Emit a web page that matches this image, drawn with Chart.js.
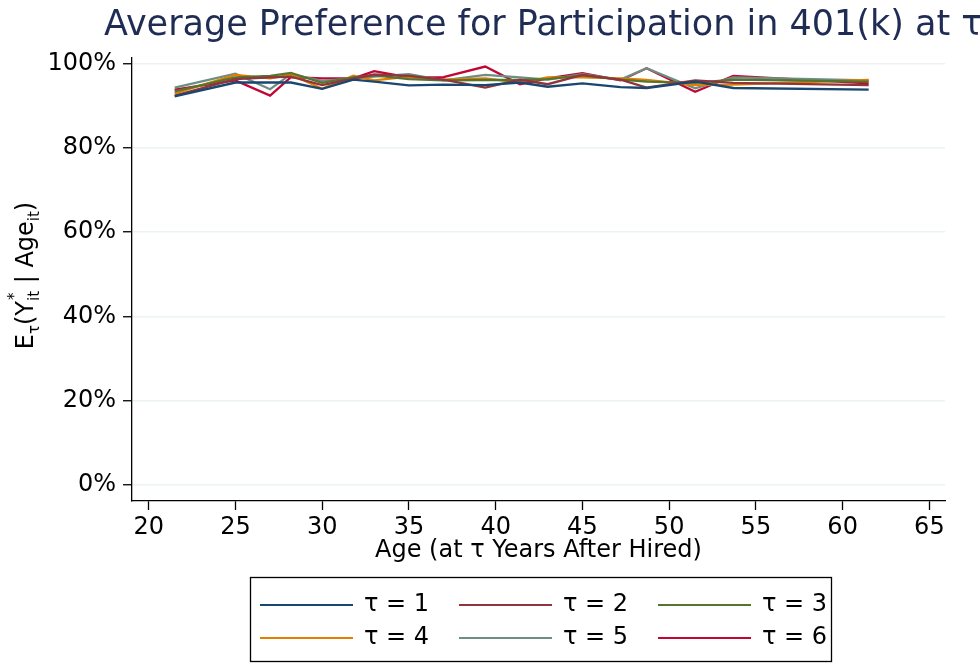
<!DOCTYPE html>
<html>
<head>
<meta charset="utf-8">
<script src="https://cdn.jsdelivr.net/npm/chart.js@4"></script>
<style>
html,body{margin:0;padding:0;background:#fff;}
canvas{display:block;}
</style>
</head>
<body>
<canvas id="c" width="980" height="664"></canvas>
<script>
// ---- data ----
const ages = [21.5, 25, 27, 28.2, 30, 31.8, 33, 35, 37, 39.4, 41.4, 43, 45, 47.2, 48.7, 51.5, 53.7, 61.5];
const tau1 = [92.3, 95.6, 95.6, 95.6, 94.1, 96.3, 95.8, 94.9, 95.1, 95.0, 95.6, 94.6, 95.4, 94.5, 94.3, 95.8, 94.3, 93.9];
const tau2 = [92.5, 96.4, 96.8, 97.0, 95.0, 96.5, 97.5, 97.2, 96.3, 94.4, 96.3, 95.2, 97.4, 96.3, 94.4, 96.1, 95.5, 95.0];
const tau3 = [93.5, 96.8, 97.2, 97.9, 95.5, 96.8, 97.3, 96.4, 96.1, 96.2, 96.2, 96.4, 97.3, 96.3, 95.8, 95.5, 96.3, 95.8];
const tau4 = [93.0, 97.4, 96.6, 97.5, 94.1, 97.2, 96.1, 97.0, 96.3, 96.6, 95.6, 96.8, 96.8, 96.6, 96.2, 95.0, 95.1, 96.2];
const tau5 = [94.4, 97.7, 94.0, 97.6, 96.0, 96.6, 97.0, 97.6, 96.1, 97.4, 96.8, 96.3, 97.6, 96.3, 99.0, 94.2, 96.8, 96.1];
const tau6 = [93.9, 96.1, 92.5, 96.9, 96.6, 96.6, 98.3, 96.8, 96.9, 99.4, 95.2, 96.6, 97.8, 96.1, 99.0, 93.4, 97.2, 95.4];
const seriesLabels = ['τ = 1', 'τ = 2', 'τ = 3', 'τ = 4', 'τ = 5', 'τ = 6'];
const xTicks = [20, 25, 30, 35, 40, 45, 50, 55, 60, 65];
const yTicks = [0, 20, 40, 60, 80, 100];
const titleText = 'Average Preference for Participation in 401(k) at τ';
const xTitle = 'Age (at τ Years After Hired)';

// ---- styles ----
const seriesColors = ['#1a476f', '#90353b', '#55752f', '#e37e00', '#6e8e84', '#c10534'];
const FONT = 'DejaVu Sans';

const seriesValues = [tau1, tau2, tau3, tau4, tau5, tau6];

const overlay = {
  id: 'overlay',
  afterDraw(chart) {
    const ctx = chart.ctx;
    const ca = chart.chartArea;
    ctx.save();
    // title
    ctx.fillStyle = '#1f2d55';
    ctx.font = '35px "' + FONT + '"';
    ctx.textAlign = 'left';
    ctx.textBaseline = 'alphabetic';
    ctx.fillText(titleText, 104, 35);

    // x axis title
    ctx.fillStyle = '#000';
    ctx.font = '24px "' + FONT + '"';
    ctx.textAlign = 'center';
    ctx.textBaseline = 'middle';
    ctx.fillText(xTitle, (ca.left + ca.right) / 2, 551);

    // y axis title (rotated, with sub/superscripts)
    const main = 24, small = 15;
    const pieces = [
      {t: 'E', s: main, dy: 0},
      {t: 'τ', s: small, dy: 6},
      {t: '(Y', s: main, dy: 0},
      {t: 'it', s: small, dy: 6, stackSup: '*'},
      {t: ' | Age', s: main, dy: 0},
      {t: 'it', s: small, dy: 6},
      {t: ')', s: main, dy: 0}
    ];
    let total = 0;
    pieces.forEach(p => { ctx.font = p.s + 'px "' + FONT + '"'; p.w = ctx.measureText(p.t).width; total += p.w; });
    ctx.translate(24, (ca.top + ca.bottom) / 2 - 4);
    ctx.rotate(-Math.PI / 2);
    ctx.textAlign = 'left';
    ctx.textBaseline = 'alphabetic';
    let px = -total / 2;
    const base = 9;
    pieces.forEach(p => {
      ctx.font = p.s + 'px "' + FONT + '"';
      ctx.fillText(p.t, px, base + p.dy);
      if (p.stackSup) {
        ctx.fillText(p.stackSup, px + 1, base - 14);
      }
      px += p.w;
    });
    ctx.restore();

    // legend
    ctx.save();
    ctx.strokeStyle = '#000';
    ctx.lineWidth = 1.3;
    ctx.strokeRect(250.5, 577.5, 581, 84);
    const colLine = [260, 459, 658];
    const rowY = [605, 638];
    ctx.font = '24px "' + FONT + '"';
    ctx.textAlign = 'left';
    ctx.textBaseline = 'middle';
    chart.data.datasets.forEach((ds, i) => {
      const c = i % 3, r = Math.floor(i / 3);
      const x0 = colLine[c], y0 = rowY[r];
      ctx.strokeStyle = ds.borderColor;
      ctx.lineWidth = 2;
      ctx.beginPath();
      ctx.moveTo(x0, y0);
      ctx.lineTo(x0 + 93, y0);
      ctx.stroke();
      ctx.fillStyle = '#000';
      ctx.fillText(ds.label, x0 + 104, y0);
    });
    ctx.restore();
  }
};

new Chart(document.getElementById('c'), {
  type: 'line',
  data: {
    datasets: seriesValues.map((vals, i) => ({
      label: seriesLabels[i],
      data: ages.map((a, j) => ({x: a, y: vals[j]})),
      borderColor: seriesColors[i],
      backgroundColor: seriesColors[i],
      borderWidth: 2.3,
      pointRadius: 0,
      tension: 0,
      fill: false
    }))
  },
  options: {
    responsive: false,
    animation: false,
    devicePixelRatio: 1,
    layout: {padding: {top: 58, right: 35, left: 0, bottom: 0}},
    plugins: {legend: {display: false}, title: {display: false}, tooltip: {enabled: false}},
    scales: {
      x: {
        type: 'linear',
        min: 19.04,
        max: 65.9,
        afterBuildTicks: s => { s.ticks = xTicks.map(v => ({value: v})); },
        afterFit: s => { s.height = 163; },
        grid: {drawOnChartArea: false, drawTicks: true, tickLength: 9, tickColor: '#000', tickWidth: 1.3},
        border: {color: '#000', width: 1.3},
        ticks: {font: {family: FONT, size: 24}, color: '#000', padding: 3, maxRotation: 0, autoSkip: false}
      },
      y: {
        type: 'linear',
        min: -3.9,
        max: 101.43,
        afterBuildTicks: s => { s.ticks = yTicks.map(v => ({value: v})); },
        afterFit: s => { s.width = 132; },
        grid: {color: '#eaf2f3', lineWidth: 1.5, drawTicks: true, tickLength: 9, tickColor: '#000', tickWidth: 1.3},
        border: {color: '#000', width: 1.3},
        ticks: {font: {family: FONT, size: 24}, color: '#000', padding: 7, callback: v => v + '%'}
      }
    }
  },
  plugins: [overlay]
});
</script>
</body>
</html>
